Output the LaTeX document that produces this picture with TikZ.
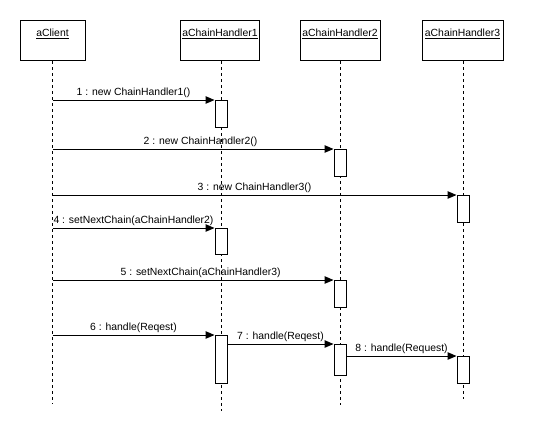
\documentclass[tikz,border=0pt]{standalone}
\usepackage{fontspec}
\setmainfont{Liberation Sans}
\usetikzlibrary{arrows.meta}
\begin{document}
\begin{tikzpicture}[x=1pt,y=-1pt,
  font=\fontsize{10.4pt}{12pt}\selectfont,
  header/.style={draw,line width=1pt,minimum height=40pt,inner xsep=2pt,inner ysep=4pt,text height=12pt,text depth=20pt,anchor=north},
  lifeline/.style={line width=0.8pt,dash pattern=on 3pt off 3pt},
  act/.style={draw,fill=white,line width=1pt,minimum width=12pt,inner sep=0pt,anchor=north},
  msg/.style={line width=1pt,-{Triangle[length=9pt,width=7.5pt]}},
  lbl/.style={anchor=base,yshift=5pt,inner sep=0pt}]
\useasboundingbox (0,0) rectangle (545,432);
% headers
\node[header,minimum width=65pt] (client) at (52.5,20) {\underline{aClient}};
\node[header,minimum width=78pt] (h1) at (220,20) {\underline{aChainHandler1}};
\node[header,minimum width=80pt] (h2) at (340,20) {\underline{aChainHandler2}};
\node[header,minimum width=81pt] (h3) at (462.5,20) {\underline{aChainHandler3}};
% lifeline ends
\coordinate (ce) at (52.5,404);
\coordinate (e1) at (221,411);
\coordinate (e2) at (340.5,405);
\coordinate (e3) at (463.5,399);
\draw[lifeline] (client.south) -- (ce);
\draw[lifeline] (h1.south -| e1) -- (e1);
\draw[lifeline] (h2.south -| e2) -- (e2);
\draw[lifeline] (h3.south -| e3) -- (e3);
% activation boxes
\node[act,minimum height=27pt] (b1) at (221,100) {};
\node[act,minimum height=27pt] (b2) at (340,149) {};
\node[act,minimum height=27pt] (b3) at (463,195) {};
\node[act,minimum height=26pt] (b4) at (221,228) {};
\node[act,minimum height=27pt] (b5) at (340,280) {};
\node[act,minimum height=48pt] (b6) at (221,335) {};
\node[act,minimum height=31pt] (b7) at (340,344) {};
\node[act,minimum height=27pt] (b8) at (463,356) {};
% messages
\draw[msg] (client.south |- b1.north west) -- node[lbl]{1 : new ChainHandler1()} (b1.north west);
\draw[msg] (client.south |- b2.north west) -- node[lbl,pos=0.527]{2 : new ChainHandler2()} (b2.north west);
\draw[msg] (client.south |- b3.north west) -- node[lbl]{3 : new ChainHandler3()} (b3.north west);
\draw[msg] (client.south |- b4.north west) -- node[lbl]{4 : setNextChain(aChainHandler2)} (b4.north west);
\draw[msg] (client.south |- b5.north west) -- node[lbl,pos=0.527]{5 : setNextChain(aChainHandler3)} (b5.north west);
\draw[msg] (client.south |- b6.north west) -- node[lbl]{6 : handle(Reqest)} (b6.north west);
\draw[msg] (b6.north east |- b7.north west) -- node[lbl]{7 : handle(Reqest)} (b7.north west);
\draw[msg] (b7.north east |- b8.north west) -- node[lbl]{8 : handle(Request)} (b8.north west);
\end{tikzpicture}
\end{document}
